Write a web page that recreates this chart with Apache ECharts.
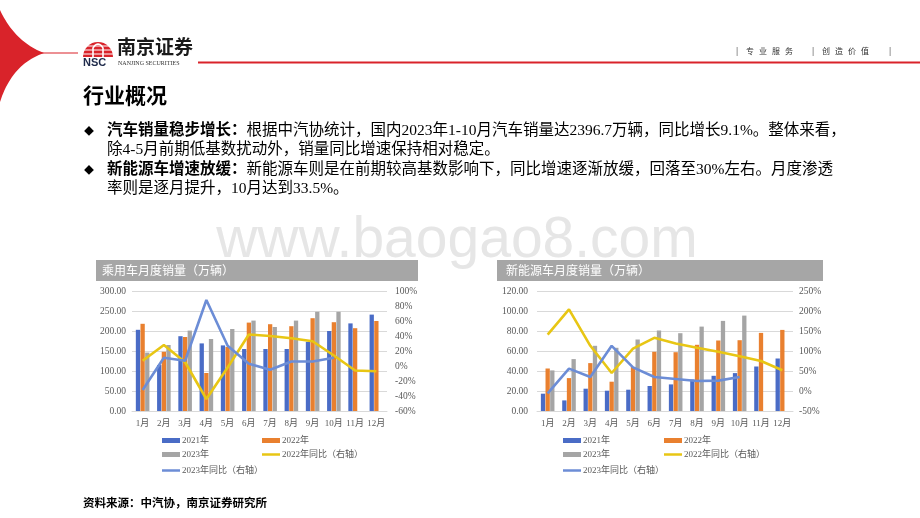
<!DOCTYPE html>
<html><head><meta charset="utf-8">
<script src="https://cdn.jsdelivr.net/npm/echarts@6/dist/echarts.min.js"></script>
<style>html,body{margin:0;padding:0;background:#fff}#c{width:920px;height:518px}</style>
</head><body><div id="c"></div>
<script>
// ---------- data ----------
const months = ['1月','2月','3月','4月','5月','6月','7月','8月','9月','10月','11月','12月'];
const seriesNames = ['2021年','2022年','2023年','2022年同比（右轴）','2023年同比（右轴）'];

// 乘用车月度销量（万辆）
const pc2021 = [203, 115, 187, 169, 164, 155, 155, 155, 173, 200, 219, 241];
const pc2022 = [218, 148, 185, 95, 160, 221, 217, 212, 232, 222, 207, 225];
const pc2023 = [146, 165, 201, 180, 205, 226, 210, 226, 248, 248, null, null];
const pcYoy2022 = [7, 28, 5, -44, -2, 42, 40, 37, 33, 14, -6, -7];
const pcYoy2023 = [-32, 11, 7, 88, 27, 3, -5, 6, 6, 11, null, null];

// 新能源车月度销量（万辆）
const nev2021 = [17.3, 10.6, 22.3, 20.3, 21.3, 25.0, 26.6, 31.5, 35.2, 37.9, 44.5, 52.5];
const nev2022 = [42.5, 32.9, 47.9, 29.3, 44.0, 59.2, 58.8, 66.2, 70.5, 70.8, 78.1, 81.1];
const nev2023 = [40.6, 51.9, 65.2, 63.2, 71.5, 80.5, 77.8, 84.4, 90.1, 95.4, null, null];
const nevYoy2022 = [141, 204, 113, 45, 106, 133, 119, 108, 98, 87, 75, 52];
const nevYoy2023 = [-6, 56, 35, 113, 59, 35, 30, 25, 26, 35, null, null];

// texts
const pageTitle = '行业概况';
const bullet1Head = '汽车销量稳步增长：';
const bullet1Line1 = '根据中汽协统计，国内2023年1-10月汽车销量达2396.7万辆，同比增长9.1%。整体来看，';
const bullet1Line2 = '除4-5月前期低基数扰动外，销量同比增速保持相对稳定。';
const bullet2Head = '新能源车增速放缓：';
const bullet2Line1 = '新能源车则是在前期较高基数影响下，同比增速逐渐放缓，回落至30%左右。月度渗透';
const bullet2Line2 = '率则是逐月提升，10月达到33.5%。';
const chart1Title = '乘用车月度销量（万辆）';
const chart2Title = '新能源车月度销量（万辆）';
const sourceText = '资料来源：中汽协，南京证券研究所';
const headerSlogan = ['|','专','业','服','务','|','创','造','价','值','|'];
const sloganX = [737, 750, 763, 776, 789, 813, 826, 839, 852, 865, 890];

// ---------- styles ----------
const SERIF = '"Liberation Serif","Noto Sans CJK SC",serif';
const CJK = '"Noto Sans CJK SC",sans-serif';
const C_BLUE = '#4A6CC6', C_ORANGE = '#E9802F', C_GRAY = '#A5A5A5', C_YEL = '#E8C614', C_LBLUE = '#6C8DD6';
const AX = '#595959', GRID = '#D9D9D9';

function barS(name, data, xi, yi, color){
  return {type:'bar', name, data, xAxisIndex:xi, yAxisIndex:yi, barWidth:4.3, barGap:'8%', barCategoryGap:'38%',
    itemStyle:{color}, emphasis:{disabled:true}, z:2};
}
function lineS(name, data, xi, yi, color){
  return {type:'line', name, data, xAxisIndex:xi, yAxisIndex:yi, symbol:'none', connectNulls:false,
    lineStyle:{color, width:2.6}, itemStyle:{color}, emphasis:{disabled:true}, z:3};
}
function xAx(gi){
  return {type:'category', gridIndex:gi, data:months, axisLine:{lineStyle:{color:GRID}}, axisTick:{show:false},
    axisLabel:{color:AX, fontSize:9, fontFamily:SERIF, margin:8, interval:0, hideOverlap:false}};
}
function yAx(gi, min, max, interval, right, fmt, margin){
  return {type:'value', gridIndex:gi, min, max, interval, position:right?'right':'left',
    axisLine:{show:false}, axisTick:{show:false},
    splitLine:{show:!right, lineStyle:{color:GRID, width:1}},
    axisLabel:{color:AX, fontSize:9.5, fontFamily:SERIF, margin, formatter:fmt}};
}
const fmt2 = v => v.toFixed(2);
const fmtPct = v => v + '%';

function legendItem(name, left, top, isLine){
  return {data:[name], left, top, padding:0, itemGap:0, selectedMode:false,
    itemWidth:18, itemHeight:isLine?2.5:5, icon:'rect',
    textStyle:{color:AX, fontSize:9, fontFamily:SERIF, padding:[0,0,0,-3]}};
}
function legends(c1, c2){
  return [
    legendItem(seriesNames[0], c1, 436, false),
    legendItem(seriesNames[1], c2, 436, false),
    legendItem(seriesNames[2], c1, 450, false),
    legendItem(seriesNames[3], c2, 450, true),
    legendItem(seriesNames[4], c1, 466, true)
  ];
}

// quadratic bezier sampler for decorative shapes
function quad(p0, p1, p2, n){
  const pts = [];
  for (let i = 0; i <= n; i++){
    const t = i / n, a = (1-t)*(1-t), b = 2*(1-t)*t, c = t*t;
    pts.push([a*p0[0]+b*p1[0]+c*p2[0], a*p0[1]+b*p1[1]+c*p2[1]]);
  }
  return pts;
}

// ---------- graphics ----------
const g = [];
// watermark
g.push({type:'text', z:0, x:457, y:270, style:{text:'www.baogao8.com', fill:'#E6E6E6',
  font:'57px "Liberation Sans",Arial,sans-serif', textAlign:'center', textVerticalAlign:'bottom'}});
// red crescent
const cres = quad([0,10],[15,42],[44,53],24).concat(quad([44,53],[12,64],[0,102],24).slice(1));
g.push({type:'polygon', z:1, shape:{points:cres}, style:{fill:'#D9232A'}});
g.push({type:'line', z:1, shape:{x1:40, y1:53, x2:78, y2:53}, style:{stroke:'#D9232A', lineWidth:1.2}});
// logo dome
g.push({type:'sector', z:1, shape:{cx:98, cy:57, r:15, r0:0, startAngle:Math.PI, endAngle:Math.PI*2, clockwise:true}, style:{fill:'#D9232A'}});
[46,50,54].forEach(y=>g.push({type:'line', z:2, shape:{x1:82, y1:y, x2:114, y2:y}, style:{stroke:'#fff', lineWidth:1}}));
g.push({type:'polyline', z:2, shape:{points:[[93,57],[93,48]].concat(quad([93,48],[98,40],[103,48],10)).concat([[103,57]])}, style:{stroke:'#fff', lineWidth:1.6, fill:null}});
g.push({type:'text', z:2, x:83, y:63, style:{text:'NSC', font:'bold 11px "Liberation Sans",Arial,sans-serif', fill:'#1E2A4A', textVerticalAlign:'middle'}});
g.push({type:'text', z:2, x:117, y:47, style:{text:'南京证券', font:'bold 19px '+CJK, fill:'#1a1a1a', textVerticalAlign:'middle'}});
g.push({type:'text', z:2, x:118, y:63, style:{text:'NANJING SECURITIES', font:'6px '+SERIF, fill:'#333', textVerticalAlign:'middle'}});
g.push({type:'line', z:1, shape:{x1:198, y1:62.5, x2:920, y2:62.5}, style:{stroke:'#D9232A', lineWidth:2}});
headerSlogan.forEach((t,i)=>g.push({type:'text', z:2, x:sloganX[i], y:51, style:{text:t, font:'8px '+CJK, fill:'#333', textAlign:'center', textVerticalAlign:'middle'}}));
// page title
g.push({type:'text', z:2, x:83, y:95, style:{text:pageTitle, font:'bold 21px '+CJK, fill:'#000', textVerticalAlign:'middle'}});
// bullets
const BF = '15.5px '+SERIF;
const rich = {b:{fontWeight:'bold', fontSize:15.5, fontFamily:SERIF, fill:'#000'}, n:{fontSize:15.5, fontFamily:SERIF, fill:'#000'}};
[[131, '{b|'+bullet1Head+'}{n|'+bullet1Line1+'}', true],[150, '{n|'+bullet1Line2+'}', false],
 [170, '{b|'+bullet2Head+'}{n|'+bullet2Line1+'}', true],[189, '{n|'+bullet2Line2+'}', false]].forEach(r=>{
  g.push({type:'text', z:2, x:107, y:r[0], style:{text:r[1], rich, font:BF, fill:'#000', textVerticalAlign:'middle'}});
  if (r[2]) g.push({type:'text', z:2, x:89, y:r[0], style:{text:'◆', font:'10px '+CJK, fill:'#000', textAlign:'center', textVerticalAlign:'middle'}});
});
// chart title bars
g.push({type:'rect', z:3, shape:{x:96, y:260, width:322, height:21}, style:{fill:'#A6A6A6'}});
g.push({type:'text', z:4, x:102, y:270.5, style:{text:chart1Title, font:'12px '+CJK, fill:'#fff', textVerticalAlign:'middle'}});
g.push({type:'rect', z:3, shape:{x:497, y:260, width:326, height:21}, style:{fill:'#A6A6A6'}});
g.push({type:'text', z:4, x:506, y:270.5, style:{text:chart2Title, font:'12px '+CJK, fill:'#fff', textVerticalAlign:'middle'}});
// source
g.push({type:'text', z:2, x:83, y:503, style:{text:sourceText, font:'bold 11.5px '+CJK, fill:'#000', textVerticalAlign:'middle'}});

const option = {
  animation:false,
  backgroundColor:'#fff',
  grid:[{left:132, top:291, width:255, height:120}, {left:537, top:291, width:256, height:120}],
  xAxis:[xAx(0), xAx(1)],
  yAxis:[yAx(0,0,300,50,false,fmt2,6), yAx(0,-60,100,20,true,fmtPct,8), yAx(1,0,120,20,false,fmt2,9), yAx(1,-50,250,50,true,fmtPct,6)],
  legend:[...legends(162,262), ...legends(563,664)],
  series:[
    barS(seriesNames[0], pc2021, 0, 0, C_BLUE), barS(seriesNames[1], pc2022, 0, 0, C_ORANGE), barS(seriesNames[2], pc2023, 0, 0, C_GRAY),
    lineS(seriesNames[3], pcYoy2022, 0, 1, C_YEL), lineS(seriesNames[4], pcYoy2023, 0, 1, C_LBLUE),
    barS(seriesNames[0], nev2021, 1, 2, C_BLUE), barS(seriesNames[1], nev2022, 1, 2, C_ORANGE), barS(seriesNames[2], nev2023, 1, 2, C_GRAY),
    lineS(seriesNames[3], nevYoy2022, 1, 3, C_YEL), lineS(seriesNames[4], nevYoy2023, 1, 3, C_LBLUE)
  ],
  graphic:{elements:g}
};
echarts.init(document.getElementById('c')).setOption(option);
</script></body></html>
